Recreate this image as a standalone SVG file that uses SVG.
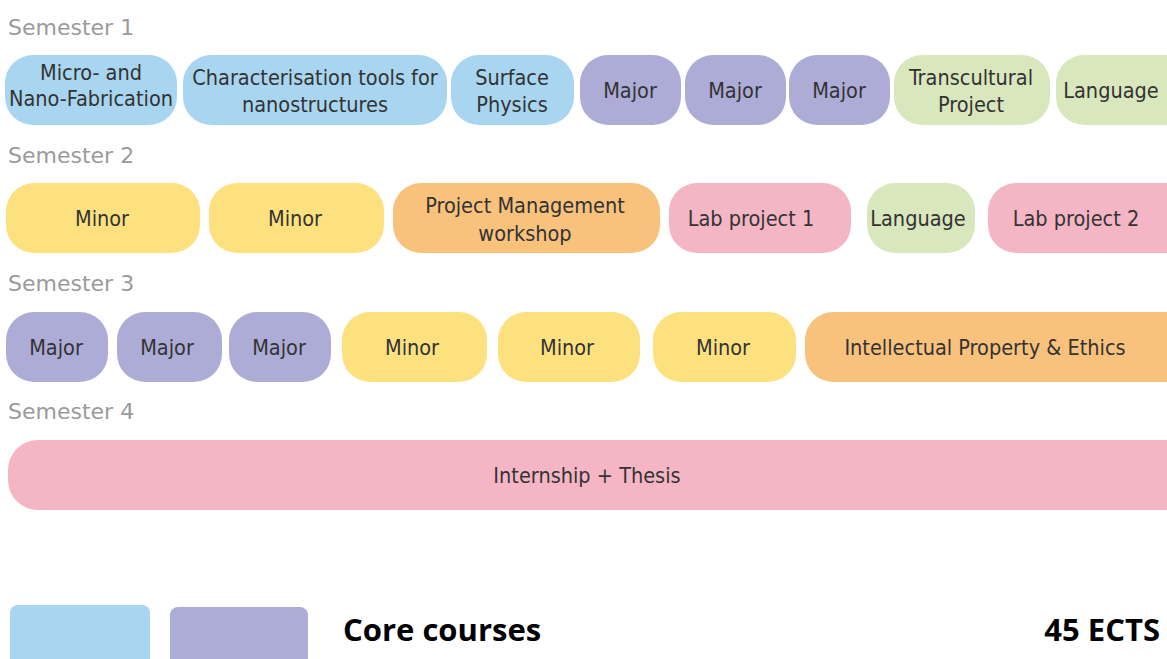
<svg xmlns="http://www.w3.org/2000/svg" width="1167" height="659" viewBox="0 0 1167 659">
  <style>
    .sem { font-family: "DejaVu Sans", "Liberation Sans", sans-serif; font-size: 22px; fill: #9a9a9a; }
    .lbl { font-family: "DejaVu Sans Condensed", "DejaVu Sans", sans-serif; font-size: 21.5px; fill: #333333; text-anchor: middle; }
    .blue { fill: #a8d5ef; }
    .purple { fill: #adacd7; }
    .green { fill: #d9e7bd; }
    .yellow { fill: #fde17f; }
    .orange { fill: #f8c27c; }
    .pink { fill: #f4b6c4; }
    .leg { font-family: "Open Sans", "Liberation Sans", sans-serif; font-size: 31px; font-weight: bold; fill: #000000; }
  </style>
  <rect width="1167" height="659" fill="#ffffff"/>

  <!-- Semester headings -->
  <text class="sem" x="8" y="35">Semester 1</text>
  <text class="sem" x="8" y="163">Semester 2</text>
  <text class="sem" x="8" y="291">Semester 3</text>
  <text class="sem" x="8" y="419">Semester 4</text>

  <!-- Semester 1 -->
  <g id="s1-micro"><rect class="blue" x="5" y="55" width="172" height="70" rx="28"/>
    <text class="lbl" x="91" y="80">Micro- and</text><text class="lbl" x="91" y="106">Nano-Fabrication</text></g>
  <g id="s1-char"><rect class="blue" x="183" y="55" width="264" height="70" rx="28"/>
    <text class="lbl" x="315" y="85">Characterisation tools for</text><text class="lbl" x="315" y="112">nanostructures</text></g>
  <g id="s1-surface"><rect class="blue" x="451" y="55" width="123" height="70" rx="28"/>
    <text class="lbl" x="512" y="85">Surface</text><text class="lbl" x="512" y="112">Physics</text></g>
  <g id="s1-major1"><rect class="purple" x="580" y="55" width="101" height="70" rx="28"/>
    <text class="lbl" x="630" y="98">Major</text></g>
  <g id="s1-major2"><rect class="purple" x="685" y="55" width="101" height="70" rx="28"/>
    <text class="lbl" x="735" y="98">Major</text></g>
  <g id="s1-major3"><rect class="purple" x="789" y="55" width="101" height="70" rx="28"/>
    <text class="lbl" x="839" y="98">Major</text></g>
  <g id="s1-transcultural"><rect class="green" x="894" y="55" width="156" height="70" rx="28"/>
    <text class="lbl" x="971" y="85">Transcultural</text><text class="lbl" x="971" y="112">Project</text></g>
  <g id="s1-language"><rect class="green" x="1056" y="55" width="140" height="70" rx="28"/>
    <text class="lbl" x="1111" y="98">Language</text></g>

  <!-- Semester 2 -->
  <g id="s2-minor1"><rect class="yellow" x="6" y="183" width="194" height="70" rx="28"/>
    <text class="lbl" x="102" y="226">Minor</text></g>
  <g id="s2-minor2"><rect class="yellow" x="209" y="183" width="175" height="70" rx="28"/>
    <text class="lbl" x="295" y="226">Minor</text></g>
  <g id="s2-pm"><rect class="orange" x="393" y="183" width="267" height="70" rx="28"/>
    <text class="lbl" x="525" y="213">Project Management</text><text class="lbl" x="525" y="241">workshop</text></g>
  <g id="s2-lab1"><rect class="pink" x="669" y="183" width="182" height="70" rx="28"/>
    <text class="lbl" x="751" y="226">Lab project 1</text></g>
  <g id="s2-language"><rect class="green" x="867" y="183" width="108" height="70" rx="28"/>
    <text class="lbl" x="918" y="226">Language</text></g>
  <g id="s2-lab2"><rect class="pink" x="988" y="183" width="210" height="70" rx="28"/>
    <text class="lbl" x="1076" y="226">Lab project 2</text></g>

  <!-- Semester 3 -->
  <g id="s3-major1"><rect class="purple" x="6" y="312" width="102" height="70" rx="28"/>
    <text class="lbl" x="56" y="355">Major</text></g>
  <g id="s3-major2"><rect class="purple" x="117" y="312" width="105" height="70" rx="28"/>
    <text class="lbl" x="167" y="355">Major</text></g>
  <g id="s3-major3"><rect class="purple" x="229" y="312" width="102" height="70" rx="28"/>
    <text class="lbl" x="279" y="355">Major</text></g>
  <g id="s3-minor1"><rect class="yellow" x="342" y="312" width="145" height="70" rx="28"/>
    <text class="lbl" x="412" y="355">Minor</text></g>
  <g id="s3-minor2"><rect class="yellow" x="498" y="312" width="142" height="70" rx="28"/>
    <text class="lbl" x="567" y="355">Minor</text></g>
  <g id="s3-minor3"><rect class="yellow" x="653" y="312" width="143" height="70" rx="28"/>
    <text class="lbl" x="723" y="355">Minor</text></g>
  <g id="s3-ipe"><rect class="orange" x="805" y="312" width="390" height="70" rx="28"/>
    <text class="lbl" x="985" y="355">Intellectual Property &amp; Ethics</text></g>

  <!-- Semester 4 -->
  <g id="s4-thesis"><rect class="pink" x="8" y="440" width="1190" height="70" rx="30"/>
    <text class="lbl" x="587" y="483">Internship + Thesis</text></g>

  <!-- Legend -->
  <g id="legend">
    <rect class="blue" x="10" y="605" width="140" height="70" rx="8"/>
    <rect class="purple" x="170" y="607" width="138" height="70" rx="8"/>
    <text class="leg" x="343" y="641">Core courses</text>
    <text class="leg" x="1160" y="641" text-anchor="end">45 ECTS</text>
  </g>

  <!-- no connectors in this layout -->
  <g id="connectors"/>
</svg>
